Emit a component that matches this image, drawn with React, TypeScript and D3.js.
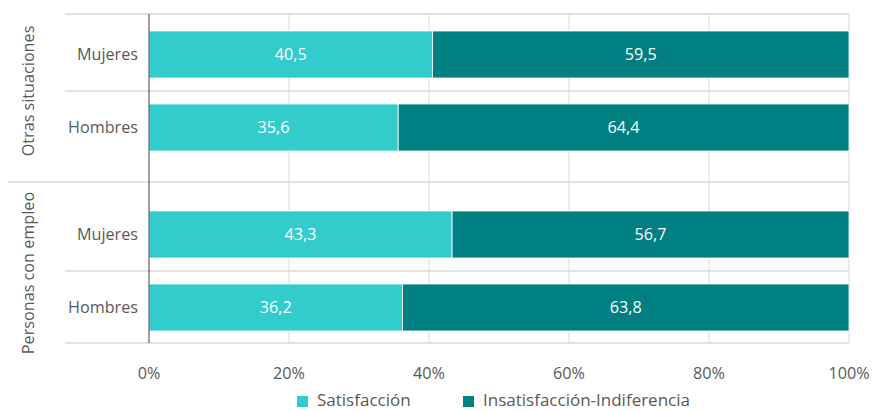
import React from "react";
import * as d3 from "d3";

const groups = ["Otras situaciones", "Personas con empleo"];
const categories = ["Mujeres", "Hombres"];
const seriesNames = ["Satisfacción", "Insatisfacción-Indiferencia"];
// values[group][category]
const satisfaccion = [
  [40.5, 35.6],
  [43.3, 36.2],
];
const insatisfaccion = [
  [59.5, 64.4],
  [56.7, 63.8],
];
const xTicks = [0, 20, 40, 60, 80, 100];
const colors = ["#33CCCC", "#008080"];

const W = 873;
const H = 411;
const FONT = "'Open Sans', 'Noto Sans', sans-serif";
const TEXT = "#595959";
const GRID = "#d9d9d9";
const FS = 16.2;

export default function App() {
  const x = d3.scaleLinear().domain([0, 100]).range([149, 849]);
  const top = 14;
  const bottom = 343;
  const groupSep = 182;
  const yCenter = (g: number, c: number) => 54.5 + g * 180 + c * 73;
  const barH = 47;
  const fmt = (v: number) => d3.format(".1f")(v).replace(".", ",");

  const rows: { g: number; c: number; vals: number[] }[] = [];
  groups.forEach((_, g) =>
    categories.forEach((_, c) =>
      rows.push({ g, c, vals: [satisfaccion[g][c], insatisfaccion[g][c]] })
    )
  );

  const hLines = [
    { y: top, x1: 65 },
    { y: (yCenter(0, 0) + yCenter(0, 1)) / 2, x1: 65 },
    { y: groupSep, x1: 8 },
    { y: (yCenter(1, 0) + yCenter(1, 1)) / 2, x1: 65 },
    { y: bottom, x1: 65 },
  ];
  const groupLabelY = [91, 273];

  const legendItems = [
    { x: 297, label: seriesNames[0], color: colors[0] },
    { x: 463, label: seriesNames[1], color: colors[1] },
  ];

  return (
    <svg width={W} height={H} style={{ position: "absolute", left: 0, top: 0, background: "#fff" }} fontFamily={FONT}>
      {xTicks.slice(1).map((t) => (
        <line key={t} x1={x(t)} x2={x(t)} y1={top} y2={bottom} stroke={GRID} strokeWidth={1} />
      ))}
      {hLines.map((l, i) => (
        <line key={i} x1={l.x1} x2={x(100)} y1={l.y} y2={l.y} stroke={GRID} strokeWidth={1.3} />
      ))}
      {rows.map((r, i) => {
        let acc = 0;
        return (
          <g key={i}>
            {r.vals.map((v, s) => {
              const x0 = acc;
              acc += v;
              return (
                <g key={s}>
                  <rect
                    x={x(x0)}
                    y={yCenter(r.g, r.c) - barH / 2}
                    width={x(x0 + v) - x(x0)}
                    height={barH}
                    fill={colors[s]}
                    stroke="#ffffff"
                    strokeWidth={0.8}
                  />
                  <text
                    x={(x(x0) + x(x0 + v)) / 2}
                    y={yCenter(r.g, r.c)}
                    dy="0.35em"
                    textAnchor="middle"
                    fill="#ffffff"
                    fontSize={FS}
                  >
                    {fmt(v)}
                  </text>
                </g>
              );
            })}
            <text x={138} y={yCenter(r.g, r.c)} dy="0.35em" textAnchor="end" fill={TEXT} fontSize={FS}>
              {categories[r.c]}
            </text>
          </g>
        );
      })}
      <line x1={x(0)} x2={x(0)} y1={top} y2={bottom} stroke="#404040" strokeWidth={1} />
      {groups.map((g, i) => (
        <text
          key={g}
          transform={`translate(28,${groupLabelY[i]}) rotate(-90)`}
          textAnchor="middle"
          dy="0.35em"
          fill={TEXT}
          fontSize={FS}
        >
          {g}
        </text>
      ))}
      {xTicks.map((t) => (
        <text key={t} x={x(t)} y={373} dy="0.35em" textAnchor="middle" fill={TEXT} fontSize={FS}>
          {t}%
        </text>
      ))}
      {legendItems.map((l) => (
        <g key={l.label}>
          <rect x={l.x} y={396} width={11} height={11} fill={l.color} />
          <text x={l.x + 20} y={400} dy="0.35em" fill={TEXT} fontSize={17}>
            {l.label}
          </text>
        </g>
      ))}
    </svg>
  );
}
